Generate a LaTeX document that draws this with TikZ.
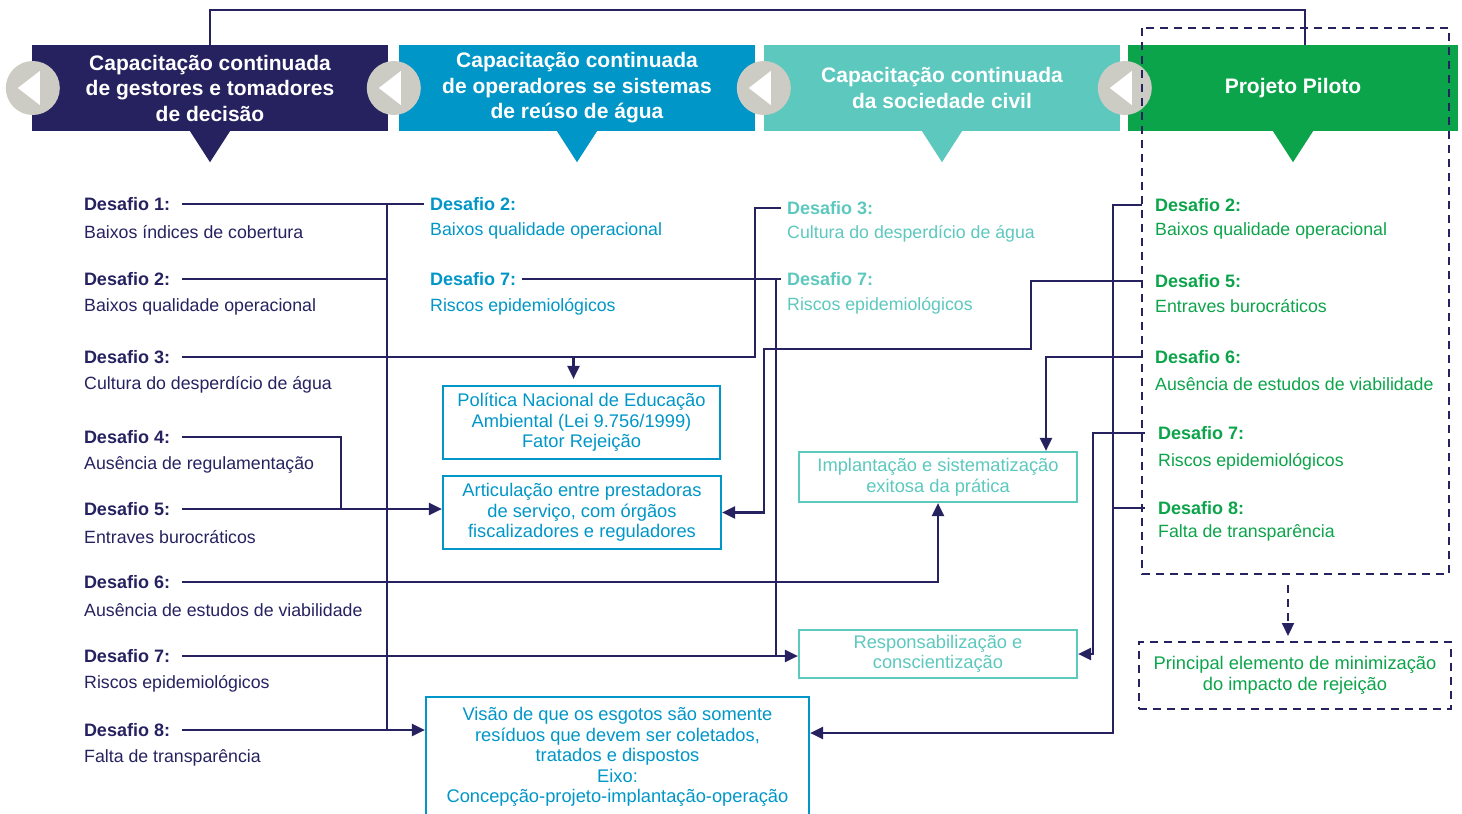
\documentclass[tikz,border=0pt]{standalone}
\usepackage{fontspec}
\setmainfont{Liberation Sans}
\usetikzlibrary{arrows.meta,positioning}

\definecolor{marinho}{RGB}{38,34,96}
\definecolor{azul}{RGB}{0,150,200}
\definecolor{turquesa}{RGB}{92,200,190}
\definecolor{verde}{RGB}{12,164,74}
\definecolor{cinza}{RGB}{204,203,196}

\begin{document}
\begin{tikzpicture}[x=1pt,y=-1pt,
    elo/.style={draw=marinho,line width=2.2pt},
    seta/.style={-{Triangle[length=13pt,width=12pt]}},
    tracejado/.style={draw=marinho,line width=2pt,dash pattern=on 8pt off 6pt},
    faixa/.style={minimum width=356pt,minimum height=86pt,inner sep=0pt,align=center,
      text=white,font=\fontsize{21}{25.5}\selectfont\bfseries},
    desafio/.style={anchor=west,inner xsep=6pt,inner ysep=0pt,font=\fontsize{18}{20}\selectfont\bfseries},
    texto/.style={anchor=west,inner sep=0pt,font=\fontsize{17.75}{20}\selectfont},
    caixa/.style={draw,line width=2.2pt,align=center,inner sep=0pt,font=\fontsize{18.3}{20.6}\selectfont}]
  \clip (0,0) rectangle (1462,814);

  % faixas do topo
  \node[faixa,fill=marinho] (h1) at (210,88) {Capacitação continuada\\de gestores e tomadores\\de decisão};
  \node[faixa,fill=azul] (h2) at (577,88) {Capacitação continuada\\de operadores se sistemas\\de reúso de água};
  \node[faixa,fill=turquesa] (h3) at (942,88) {Capacitação continuada\\da sociedade civil};
  \node[faixa,fill=verde,minimum width=330pt] (h4) at (1293,88) {Projeto Piloto};
  \draw[elo] (h1.north) -- ++(0,-35) -| ([xshift=12pt]h4.north);
  \foreach \h/\c/\dx in {h1/marinho/1,h2/azul/-5,h3/turquesa/0,h4/verde/-3}{
    \fill[\c] ([xshift=-20pt]\h.south) -- ([xshift=20pt]\h.south) -- ([yshift=-31pt]\h.south) -- cycle;
    \fill[cinza] ([xshift=\dx pt]\h.west) circle (27);
    \fill[white] ([xshift=\dx pt-15pt]\h.west) -- ([xshift=\dx pt+7pt,yshift=17pt]\h.west)
      -- ([xshift=\dx pt+7pt,yshift=-17pt]\h.west) -- cycle;
  }
  \draw[tracejado] (1142,28) rectangle (1449,574);

  % desafios
  \foreach \n/\y/\txt in {1/204/Baixos índices de cobertura,2/279/Baixos qualidade operacional,
      3/357/Cultura do desperdício de água,4/437/Ausência de regulamentação,5/509/Entraves burocráticos,
      6/582/Ausência de estudos de viabilidade,7/656/Riscos epidemiológicos,8/730/Falta de transparência}{
    \node[desafio,outer xsep=6pt,text=marinho] (e\n) at (72,\y) {Desafio \n:};
    \node[texto,text=marinho] (e\n-t) at (84,\y+28) {\txt};
  }
  \node[desafio,text=azul] (a2) at (424,204) {Desafio 2:};
  \node[texto,text=azul] (a2-t) at (430,231) {Baixos qualidade operacional};
  \node[desafio,text=azul] (a7) at (424,279) {Desafio 7:};
  \node[texto,text=azul] (a7-t) at (430,307) {Riscos epidemiológicos};
  \node[desafio,text=turquesa] (t3) at (781,208) {Desafio 3:};
  \node[texto,text=turquesa] (t3-t) at (787,234) {Cultura do desperdício de água};
  \node[desafio,text=turquesa] (t7) at (781,279) {Desafio 7:};
  \node[texto,text=turquesa] (t7-t) at (787,306) {Riscos epidemiológicos};
  \node[desafio,inner xsep=13pt,text=verde] (v2) at (1142,205) {Desafio 2:};
  \node[texto,text=verde] (v2-t) at (1155,231) {Baixos qualidade operacional};
  \node[desafio,inner xsep=13pt,text=verde] (v5) at (1142,281) {Desafio 5:};
  \node[texto,text=verde] (v5-t) at (1155,306) {Entraves burocráticos};
  \node[desafio,inner xsep=13pt,text=verde] (v6) at (1142,357) {Desafio 6:};
  \node[texto,text=verde] (v6-t) at (1155,384) {Ausência de estudos de viabilidade};
  \node[desafio,inner xsep=13pt,text=verde] (v7) at (1145,433) {Desafio 7:};
  \node[texto,text=verde] (v7-t) at (1158,462) {Riscos epidemiológicos};
  \node[desafio,inner xsep=13pt,text=verde] (v8) at (1145,508) {Desafio 8:};
  \node[texto,text=verde] (v8-t) at (1158,533) {Falta de transparência};

  % caixas de resultado
  \node[caixa,draw=azul,text=azul,minimum width=277pt,minimum height=73pt] (politica) at (581.5,422.5)
    {Política Nacional de Educação\\Ambiental (Lei 9.756/1999)\\Fator Rejeição};
  \node[caixa,draw=azul,text=azul,minimum width=278pt,minimum height=73pt] (articula) at (582,512.5)
    {Articulação entre prestadoras\\de serviço, com órgãos\\fiscalizadores e reguladores};
  \node[caixa,draw=turquesa,text=turquesa,minimum width=278pt,minimum height=50pt] (implanta) at (938,477)
    {Implantação e sistematização\\exitosa da prática};
  \node[caixa,draw=turquesa,text=turquesa,minimum width=278pt,minimum height=48pt] (respons) at (938,654)
    {Responsabilização e\\conscientização};
  \node[caixa,draw=azul,text=azul,minimum width=383pt,minimum height=120pt] (visao) at (617.5,757)
    {Visão de que os esgotos são somente\\resíduos que devem ser coletados,\\tratados e dispostos\\Eixo:\\Concepção-projeto-implantação-operação};
  \node[caixa,tracejado,text=verde,minimum width=312pt,minimum height=67pt] (impacto) at (1295,675.5)
    {Principal elemento de minimização\\do impacto de rejeição};

  % ligações
  \coordinate (barra) at (387,0);
  \coordinate (r4) at (341,0);
  \coordinate (q3) at (755,357);
  \coordinate (pn) at ([xshift=-8pt]politica.north);
  \draw[elo] (e1.east) -- (a2.west);
  \draw[elo] (e1.east -| barra) -- (e8.east -| barra);
  \draw[elo] (e2.east) -- (e2.east -| barra);
  \draw[elo] (e3.east) -- (q3) |- (t3.west);
  \draw[elo,seta,shorten >=6pt] (pn |- e3.east) -- (pn);
  \draw[elo] (e4.east) -| (e5.east -| r4);
  \draw[elo,seta] (e5.east) -- (e5.east -| articula.west);
  \draw[elo,seta] (e6.east) -| (implanta.south);
  \draw[elo,seta] (e7.east) -- (e7.east -| respons.west);
  \draw[elo,seta] (e8.east) -- (e8.east -| visao.west);

  \coordinate (r7) at (776,0);
  \draw[elo] (a7.east) -- (t7.west);
  \draw[elo] (a7.east -| r7) -- (e7.east -| r7);

  \coordinate (q5) at (1031,349);
  \coordinate (q5b) at (764,349);
  \coordinate (r6) at (1046,0);
  \coordinate (r7b) at (1093,0);
  \coordinate (q2) at (1113,733);
  \draw[elo,seta] (v5.west) -| (q5) -- (q5b) |- (articula.east);
  \draw[elo,seta] (v6.west) -| (r6 |- implanta.north);
  \draw[elo,seta] (v7.west) -| (r7b |- respons.east) -- (respons.east);
  \draw[elo,seta] (v2.west) -| (q2) -- (q2 -| visao.east);
  \draw[elo] (v8.west) -- (v8.west -| q2);

  \coordinate (r9) at (1288,585);
  \draw[tracejado,seta,shorten >=5pt] (r9) -- (r9 |- impacto.north);
\end{tikzpicture}
\end{document}
